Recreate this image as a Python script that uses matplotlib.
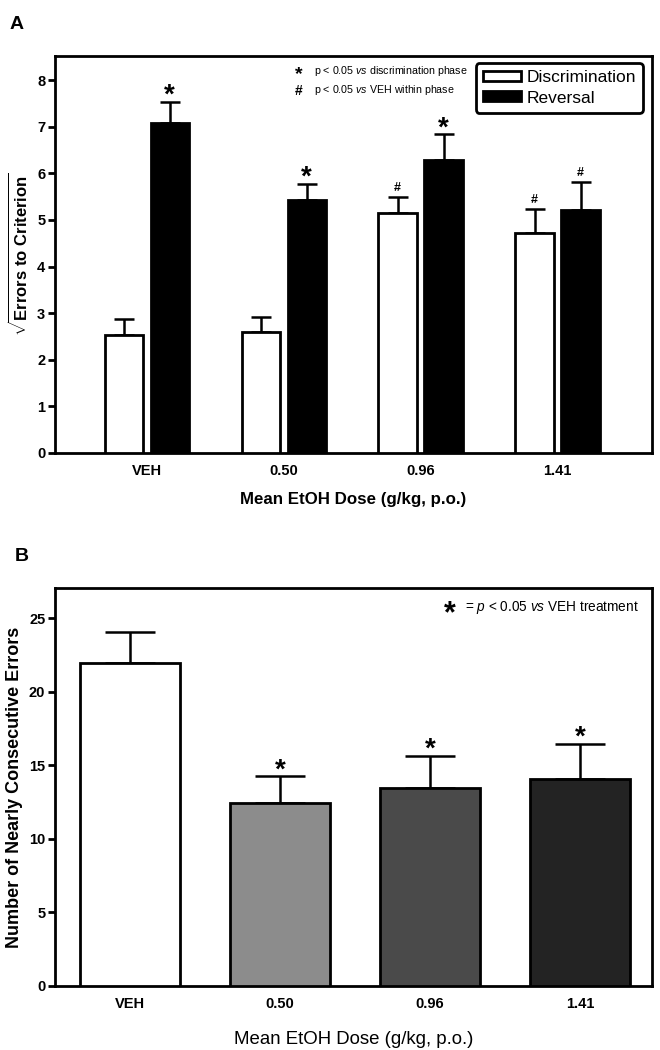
import numpy as np
import matplotlib
matplotlib.use('Agg')
import matplotlib.pyplot as plt
from matplotlib.patches import Patch

plt.rcParams['font.family'] = ['Liberation Sans', 'DejaVu Sans']
plt.rcParams['mathtext.fontset'] = 'custom'
plt.rcParams['mathtext.rm'] = 'Liberation Sans'
plt.rcParams['mathtext.it'] = 'Liberation Sans:italic'
plt.rcParams['mathtext.bf'] = 'Liberation Sans:bold'

# data
doses = ['VEH', '0.50', '0.96', '1.41']
disc_mean = [2.53, 2.60, 5.16, 4.73]
disc_sem = [0.34, 0.32, 0.33, 0.50]
rev_mean = [7.08, 5.43, 6.28, 5.21]
rev_sem = [0.45, 0.34, 0.56, 0.61]
disc_sig = ['', '', '#', '#']
rev_sig = ['*', '*', '*', '#']

nce_mean = [22.0, 12.45, 13.45, 14.05]
nce_sem = [2.1, 1.8, 2.2, 2.4]
nce_sig = ['', '*', '*', '*']
nce_colors = ['white', '#8c8c8c', '#4a4a4a', '#232323']


def style_axes(ax):
    for s in ax.spines.values():
        s.set_linewidth(2)
    ax.tick_params(axis='y', direction='out', length=5, width=2, labelsize=10.5, pad=2)
    ax.tick_params(axis='x', length=0, labelsize=10.5, pad=8)
    for lab in ax.get_xticklabels() + ax.get_yticklabels():
        lab.set_fontweight('bold')


def mark(ax, x, top, sym, size):
    # significance symbol above an error bar cap
    if not sym:
        return
    if sym == '*':
        ax.annotate('*', (x, top), xytext=(0, -5), textcoords='offset points',
                    ha='center', va='bottom', fontsize=size, fontweight='bold')
    else:
        ax.annotate('#', (x, top), xytext=(0, 2), textcoords='offset points',
                    ha='center', va='bottom', fontsize=9, fontweight='bold')


fig = plt.figure(figsize=(6.6, 10.5), dpi=100)

# ---- panel A
axA = fig.add_axes([0.0833, 0.5686, 0.9047, 0.3781])
x = np.arange(len(doses))
w = 0.28
off = 0.168
axA.bar(x - off, disc_mean, w, color='white', edgecolor='black', linewidth=2, zorder=3)
axA.bar(x + off, rev_mean, w, color='black', edgecolor='black', linewidth=2, zorder=3)
axA.errorbar(x - off, disc_mean, yerr=[np.zeros(4), disc_sem], fmt='none',
             ecolor='black', elinewidth=1.8, capsize=7.5, capthick=1.8, zorder=2)
axA.errorbar(x + off, rev_mean, yerr=[np.zeros(4), rev_sem], fmt='none',
             ecolor='black', elinewidth=1.8, capsize=7.5, capthick=1.8, zorder=2)
for i in range(len(doses)):
    mark(axA, x[i] - off, disc_mean[i] + disc_sem[i], disc_sig[i], 20)
    mark(axA, x[i] + off, rev_mean[i] + rev_sem[i], rev_sig[i], 20)

axA.set_xlim(-0.67, 3.69)
axA.set_ylim(0, 8.52)
axA.set_yticks(range(0, 9))
axA.set_xticks(x)
axA.set_xticklabels(doses)
style_axes(axA)
axA.set_xlabel('Mean EtOH Dose (g/kg, p.o.)', fontsize=12.2, fontweight='bold', labelpad=10)
axA.set_ylabel(r'$\sqrt{\mathbf{Errors\ to\ Criterion}}$', fontsize=12, labelpad=4)

handles = [Patch(facecolor='white', edgecolor='black', linewidth=2),
           Patch(facecolor='black', edgecolor='black', linewidth=2)]
leg = axA.legend(handles, ['Discrimination', 'Reversal'], loc='upper right',
                 bbox_to_anchor=(0.99, 0.99), borderaxespad=0.2, fontsize=12.5,
                 fancybox=True, framealpha=1, edgecolor='black', handlelength=2.2,
                 handleheight=0.5, handletextpad=0.3, borderpad=0.4, labelspacing=0.3)
leg.get_frame().set_linewidth(2)

axA.text(0.408, 0.954, '*', transform=axA.transAxes, fontsize=14, fontweight='bold',
         ha='center', va='center')
axA.text(0.434, 0.963, r'p < 0.05 $\mathit{vs}$ discrimination phase', transform=axA.transAxes,
         fontsize=7.7, ha='left', va='center')
axA.text(0.408, 0.912, '#', transform=axA.transAxes, fontsize=10, fontweight='bold',
         ha='center', va='center')
axA.text(0.434, 0.914, r'p < 0.05 $\mathit{vs}$ VEH within phase', transform=axA.transAxes,
         fontsize=7.7, ha='left', va='center')

fig.text(0.015, 0.985, 'A', fontsize=14, fontweight='bold', ha='left', va='top')

# ---- panel B
axB = fig.add_axes([0.0833, 0.061, 0.9047, 0.379])
xb = np.arange(len(doses))
axB.bar(xb, nce_mean, 0.67, color=nce_colors, edgecolor='black', linewidth=2, zorder=3)
axB.errorbar(xb, nce_mean, yerr=[np.zeros(4), nce_sem], fmt='none',
             ecolor='black', elinewidth=1.8, capsize=18, capthick=1.8, zorder=2)
for i in range(len(doses)):
    mark(axB, xb[i], nce_mean[i] + nce_sem[i], nce_sig[i], 20)

axB.set_xlim(-0.5, 3.48)
axB.set_ylim(0, 27.07)
axB.set_yticks(range(0, 26, 5))
axB.set_xticks(xb)
axB.set_xticklabels(doses)
style_axes(axB)
axB.set_xlabel('Mean EtOH Dose (g/kg, p.o.)', fontsize=13.4, labelpad=14)
axB.set_ylabel('Number of Nearly Consecutive Errors', fontsize=13, fontweight='bold', labelpad=4)

axB.text(0.662, 0.935, '*', transform=axB.transAxes, fontsize=22, fontweight='bold',
         ha='center', va='center')
axB.text(0.687, 0.95, r'= $\mathit{p}$ < 0.05 $\mathit{vs}$ VEH treatment', transform=axB.transAxes,
         fontsize=9.8, ha='left', va='center')

fig.text(0.022, 0.478, 'B', fontsize=14, fontweight='bold', ha='left', va='top')

fig.savefig('out.png', dpi=100)
